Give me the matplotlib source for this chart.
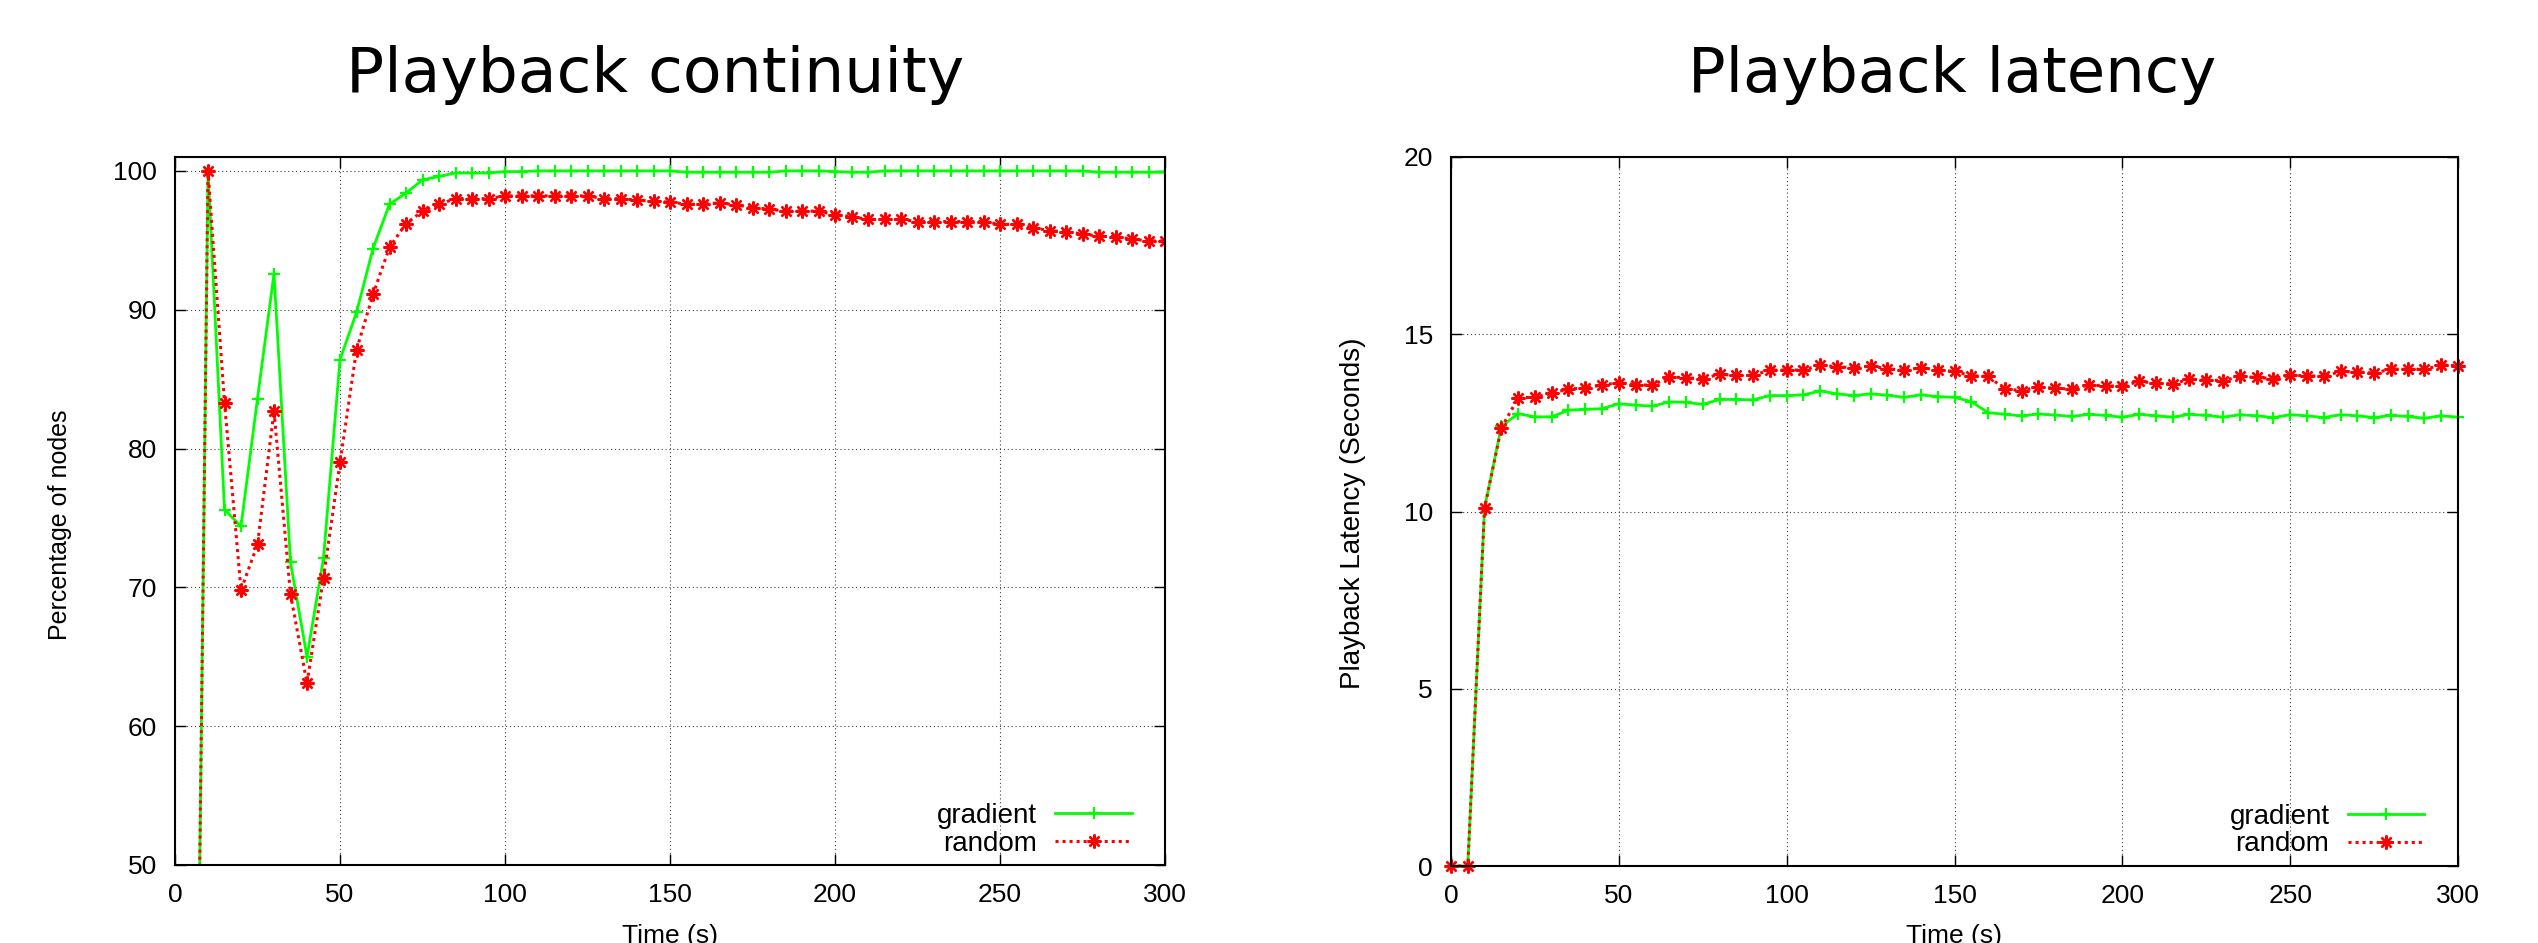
import matplotlib
matplotlib.use("Agg")
import matplotlib.pyplot as plt

plt.rcParams['font.family'] = ['Liberation Sans', 'DejaVu Sans']

# sample times (s)
time_s = list(range(0, 305, 5))

# Playback continuity (percentage of nodes)
cont_gradient = [0, 0, 100, 75.6, 74.4, 83.6, 92.6, 71.8, 65.0, 72.1,
                 86.4, 89.8, 94.4, 97.6, 98.4, 99.35, 99.6, 99.85, 99.85, 99.85,
                 99.95, 99.95, 100, 100, 100, 100, 100, 100, 100, 100,
                 100, 99.9, 99.9, 99.9, 99.9, 99.9, 99.9, 100, 100, 100,
                 99.95, 99.9, 99.9, 100, 100, 100, 100, 100, 100, 100,
                 100, 100, 100, 100, 100, 100, 99.9, 99.9, 99.9, 99.9,
                 99.9]
cont_random = [0, 0, 100, 83.3, 69.8, 73.1, 82.7, 69.5, 63.1, 70.7,
               79.0, 87.1, 91.1, 94.5, 96.2, 97.1, 97.6, 98.0, 98.0, 98.0,
               98.2, 98.2, 98.2, 98.2, 98.2, 98.2, 98.0, 98.0, 97.9, 97.8,
               97.75, 97.6, 97.6, 97.7, 97.55, 97.35, 97.25, 97.1, 97.1, 97.1,
               96.85, 96.7, 96.5, 96.5, 96.5, 96.35, 96.35, 96.35, 96.35, 96.35,
               96.15, 96.15, 95.9, 95.7, 95.6, 95.45, 95.3, 95.25, 95.1, 94.95,
               94.95]

# Playback latency (seconds)
lat_gradient = [0, 0, 10.1, 12.4, 12.76, 12.67, 12.67, 12.86, 12.88, 12.9,
                13.04, 13.0, 12.97, 13.09, 13.08, 13.02, 13.16, 13.16, 13.15, 13.27,
                13.27, 13.29, 13.4, 13.32, 13.27, 13.32, 13.28, 13.22, 13.29, 13.24,
                13.22, 13.1, 12.79, 12.74, 12.7, 12.75, 12.72, 12.68, 12.74, 12.71,
                12.66, 12.74, 12.7, 12.66, 12.74, 12.71, 12.66, 12.73, 12.7, 12.65,
                12.73, 12.7, 12.65, 12.73, 12.7, 12.65, 12.71, 12.68, 12.63, 12.7,
                12.66]
lat_random = [0, 0, 10.1, 12.36, 13.2, 13.23, 13.33, 13.46, 13.48, 13.57,
              13.63, 13.58, 13.56, 13.8, 13.77, 13.75, 13.87, 13.84, 13.84, 13.99,
              13.99, 13.99, 14.13, 14.08, 14.06, 14.1, 14.03, 13.98, 14.06, 13.99,
              13.95, 13.83, 13.81, 13.46, 13.41, 13.51, 13.48, 13.45, 13.57, 13.54,
              13.54, 13.67, 13.62, 13.6, 13.73, 13.71, 13.69, 13.81, 13.78, 13.75,
              13.84, 13.83, 13.81, 13.95, 13.94, 13.9, 14.02, 14.01, 14.01, 14.13,
              14.11]

W, H = 2538, 943
fig = plt.figure(figsize=(W / 100, H / 100), dpi=100)

def px_axes(x0, x1, y0, y1):
    # pixel box -> figure fraction
    return fig.add_axes([x0 / W, 1 - y1 / H, (x1 - x0) / W, (y1 - y0) / H])

ax1 = px_axes(175, 1165, 157, 865)
ax2 = px_axes(1451, 2458, 157, 866)

# gnuplot style "*" point: + and x on top of each other
asterisk = (8, 2, 0)

def draw_panel(ax, y_grad, y_rand, clip):
    ax.plot(time_s, y_grad, color='#00ff00', lw=2.0, marker='+',
            ms=8, mew=1.6, label='gradient', clip_on=clip)
    ax.plot(time_s, y_rand, color='#ff0000', lw=2.2, ls=(0, (1, 1.3)),
            marker=asterisk, ms=10, mew=1.7, label='random', clip_on=clip)
    ax.set_xlim(0, 300)
    ax.set_xticks(range(0, 301, 50))
    ax.grid(True, color='0.25', lw=0.8, ls=(0, (1, 2.5)))
    ax.tick_params(direction='in', length=8, width=1.0, top=True, right=True,
                   labelsize=19, pad=13)
    for sp in ax.spines.values():
        sp.set_linewidth(1.5)
    ax.legend(loc='lower right', bbox_to_anchor=(0.9667, 0.012), frameon=False,
              markerfirst=False, numpoints=1, fontsize=20, handlelength=2.77,
              handletextpad=0.65, labelspacing=0.05, borderpad=0, borderaxespad=0)

draw_panel(ax1, cont_gradient, cont_random, True)
ax1.set_ylim(50, 101)
ax1.set_yticks(range(50, 101, 10))

draw_panel(ax2, lat_gradient, lat_random, False)
ax2.set_ylim(0, 20)
ax2.set_yticks(range(0, 21, 5))

# titles
fig.text(655 / W, 1 - 92 / H, 'Playback continuity', ha='center', va='baseline',
         fontsize=45.5, family='DejaVu Sans')
fig.text(1952 / W, 1 - 92 / H, 'Playback latency', ha='center', va='baseline',
         fontsize=45, family='DejaVu Sans')

# axis labels
fig.text(60 / W, 1 - 525 / H, 'Percentage of nodes', rotation=90, ha='center',
         va='center', fontsize=18)
fig.text(1353 / W, 1 - 513 / H, 'Playback Latency (Seconds)', rotation=90,
         ha='center', va='center', fontsize=20)
fig.text(670 / W, 1 - 924 / H, 'Time (s)', ha='center', va='top', fontsize=19)
fig.text(1954 / W, 1 - 924 / H, 'Time (s)', ha='center', va='top', fontsize=19)

fig.savefig('out.png', dpi=100)
